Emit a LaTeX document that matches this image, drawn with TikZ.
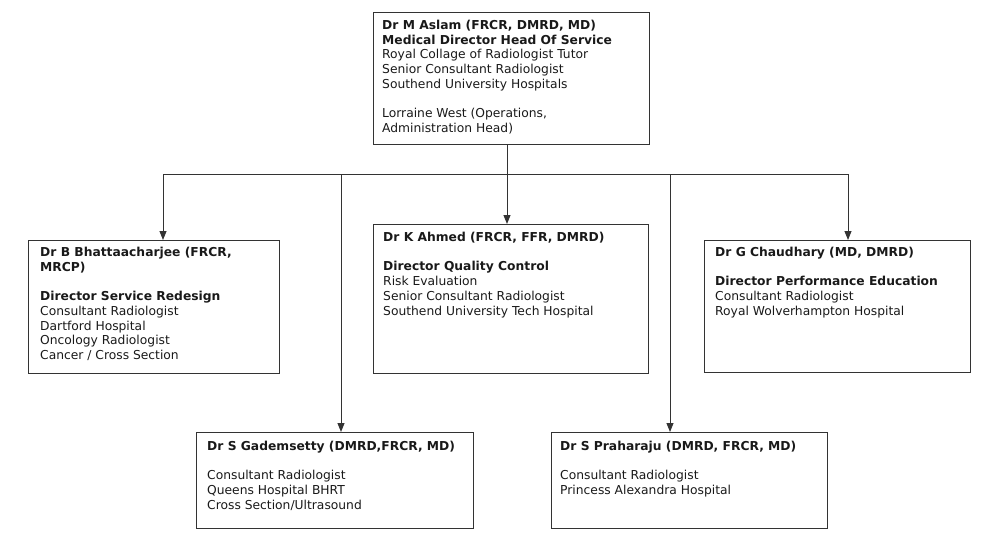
\documentclass[tikz,border=0pt]{standalone}
\usepackage{fontspec}
\setmainfont{DejaVu Sans}
\usetikzlibrary{arrows.meta}
\begin{document}
\begin{tikzpicture}[x=1pt,y=-1pt,
  box/.style={draw=black!80, line width=1pt, inner sep=0pt, anchor=north west},
  txt/.style={anchor=north west, inner sep=0pt, align=left, text=black!90,
    font=\fontsize{12.3}{14.7}\selectfont},
  conn/.style={draw=black!80, line width=1pt},
  arr/.style={conn, -{Triangle[length=9pt,width=7pt]}}]
\useasboundingbox (0,0) rectangle (1000,551);
% boxes
\node[box, minimum width=276pt, minimum height=132pt] (top) at (373,12) {};
\node[box, minimum width=251pt, minimum height=133pt] (bhat) at (28,240) {};
\node[box, minimum width=275pt, minimum height=149pt] (ahmed) at (373,224) {};
\node[box, minimum width=266pt, minimum height=132pt] (chau) at (704,240) {};
\node[box, minimum width=277pt, minimum height=96pt] (gade) at (196,432) {};
\node[box, minimum width=276pt, minimum height=96pt] (prah) at (551,432) {};
% texts
\node[txt] (ttop) at (382,20) {\textbf{Dr M Aslam (FRCR, DMRD, MD)}\\
  \textbf{Medical Director Head Of Service}\\
  Royal Collage of Radiologist Tutor\\
  Senior Consultant Radiologist\\
  Southend University Hospitals\\[14.7pt]
  Lorraine West (Operations,\\
  Administration Head)};
\node[txt] (tbhat) at (40,247) {\textbf{Dr B Bhattaacharjee (FRCR,}\\
  \textbf{MRCP)}\\[14.7pt]
  \textbf{Director Service Redesign}\\
  Consultant Radiologist\\
  Dartford Hospital\\
  Oncology Radiologist\\
  Cancer / Cross Section};
\node[txt] (tahmed) at (383,232) {\textbf{Dr K Ahmed (FRCR, FFR, DMRD)}\\[14.7pt]
  \textbf{Director Quality Control}\\
  Risk Evaluation\\
  Senior Consultant Radiologist\\
  Southend University Tech Hospital};
\node[txt] (tchau) at (715,247) {\textbf{Dr G Chaudhary (MD, DMRD)}\\[14.7pt]
  \textbf{Director Performance Education}\\
  Consultant Radiologist\\
  Royal Wolverhampton Hospital};
\node[txt] (tgade) at (207,441) {\textbf{Dr S Gademsetty (DMRD,FRCR, MD)}\\[14.7pt]
  Consultant Radiologist\\
  Queens Hospital BHRT\\
  Cross Section/Ultrasound};
\node[txt] (tprah) at (560,441) {\textbf{Dr S Praharaju (DMRD, FRCR, MD)}\\[14.7pt]
  Consultant Radiologist\\
  Princess Alexandra Hospital};
% connectors
\coordinate (j) at (507,174);
\coordinate (c1) at (163,174);
\coordinate (c2) at (341,174);
\coordinate (c4) at (670,174);
\coordinate (c5) at (848,174);
\draw[conn] (top.south -| j) -- (j);
\draw[conn] (c1) -- (c5);
\draw[arr] (c1) -- (bhat.north -| c1);
\draw[arr] (c2) -- (gade.north -| c2);
\draw[arr] (j) -- (ahmed.north -| j);
\draw[arr] (c4) -- (prah.north -| c4);
\draw[arr] (c5) -- (chau.north -| c5);
\end{tikzpicture}
\end{document}
